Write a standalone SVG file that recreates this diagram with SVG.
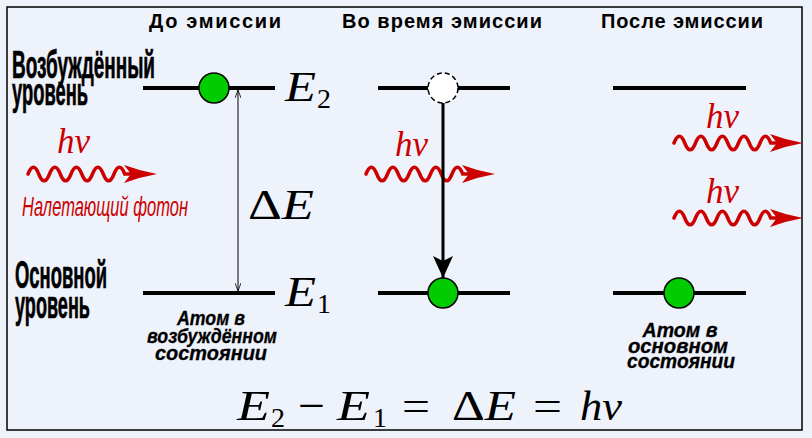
<svg xmlns="http://www.w3.org/2000/svg" xmlns:xlink="http://www.w3.org/1999/xlink" width="812" height="438" viewBox="0 0 812 438">
<style>
.head{font-family:"Liberation Sans",Arial,sans-serif;font-weight:bold;font-size:20px;fill:#000}
.lvl{font-family:"Liberation Sans",Arial,sans-serif;font-weight:bold;font-size:39px;fill:#000;stroke:#000;stroke-width:0.7}
.note{font-family:"Liberation Sans",Arial,sans-serif;font-weight:bold;font-style:italic;font-size:20px;fill:#000;stroke:#000;stroke-width:0.3;text-anchor:middle}
.inc{font-family:"Liberation Sans",Arial,sans-serif;font-style:italic;font-size:28px;fill:#cc0000}
.m{font-family:"Liberation Serif","Times New Roman",serif;font-style:italic;font-size:43px;fill:#000}
.mu{font-family:"Liberation Serif","Times New Roman",serif;font-size:43px;fill:#000}
.sub{font-family:"Liberation Serif","Times New Roman",serif;font-size:28px;fill:#000}
.hv{font-family:"Liberation Serif","Times New Roman",serif;font-style:italic;font-size:35px;fill:#cc0000}
.level{stroke:#000;stroke-width:4;fill:none}
.atom{fill:#00cc00;stroke:#000;stroke-width:1.5}
.wave{fill:none;stroke:#cc0000;stroke-width:3.5;stroke-linecap:round}
</style>
<defs>
<g id="photon">
<path class="wave" d="M0,0 c3.5,-9 7.25,-9 10.75,0 s7.25,9 10.75,0 s7.25,-9 10.75,0 s7.25,9 10.75,0 s7.25,-9 10.75,0 s7.25,9 10.75,0 s7.25,-9 10.75,0 s7.25,9 10.75,0 s7.25,-9 10.75,0 L104,0"/>
<path d="M129,0 Q112,-3 96,-9 L103,0 L96,9 Q112,3 129,0 Z" fill="#cc0000"/>
</g>
<marker id="thin" viewBox="0 0 8 6" refX="8" refY="3" markerWidth="8" markerHeight="6" markerUnits="userSpaceOnUse" orient="auto-start-reverse">
<path d="M0,0 L8,3 L0,6" fill="none" stroke="#000" stroke-width="0.8"/>
</marker>
<marker id="bold" viewBox="0 0 22 20" refX="22" refY="10" markerWidth="22" markerHeight="20" markerUnits="userSpaceOnUse" orient="auto">
<path d="M22,10 L0,0 L5,10 L0,20 Z" fill="#000"/>
</marker>
</defs>
<rect width="812" height="438" fill="#eef2fb"/>
<rect x="7" y="7" width="795" height="423" fill="#eef2fb" stroke="#000" stroke-width="1.5"/>

<g id="headings">
<text class="head" x="149" y="28" textLength="132" lengthAdjust="spacing">До эмиссии</text>
<text class="head" x="342" y="28" textLength="200" lengthAdjust="spacing">Во время эмиссии</text>
<text class="head" x="601" y="28" textLength="162" lengthAdjust="spacing">После эмиссии</text>
</g>

<g id="level-labels">
<text class="lvl" x="12" y="78" textLength="143" lengthAdjust="spacingAndGlyphs">Возбуждённый</text>
<text class="lvl" x="12" y="105" textLength="76" lengthAdjust="spacingAndGlyphs">уровень</text>
<text class="lvl" x="15" y="288" textLength="92" lengthAdjust="spacingAndGlyphs">Основной</text>
<text class="lvl" x="15" y="318" textLength="75" lengthAdjust="spacingAndGlyphs">уровень</text>
</g>

<g id="photons">
<use xlink:href="#photon" href="#photon" x="28" y="174"/>
<use xlink:href="#photon" href="#photon" x="366" y="174"/>
<use xlink:href="#photon" href="#photon" x="674" y="143"/>
<use xlink:href="#photon" href="#photon" x="674" y="218"/>
<text class="hv" x="57" y="153">hν</text>
<text class="hv" x="395" y="156">hν</text>
<text class="hv" x="706" y="128">hν</text>
<text class="hv" x="706" y="203">hν</text>
<text class="inc" x="22" y="216" textLength="166" lengthAdjust="spacingAndGlyphs">Налетающий фотон</text>
</g>

<g id="before">
<line class="level" x1="143" y1="88" x2="275" y2="88"/>
<line class="level" x1="143" y1="293" x2="275" y2="293"/>
<circle class="atom" cx="214" cy="88" r="15"/>
<text class="m" x="285" y="101" textLength="31" lengthAdjust="spacingAndGlyphs">E</text><text class="sub" x="317" y="108">2</text>
<text class="m" x="285" y="306" textLength="31" lengthAdjust="spacingAndGlyphs">E</text><text class="sub" x="317" y="313">1</text>
<text class="mu" x="248" y="219" textLength="66" lengthAdjust="spacingAndGlyphs">Δ<tspan font-style="italic">E</tspan></text>
<text class="note" x="211" y="325" textLength="68" lengthAdjust="spacingAndGlyphs">Атом в</text>
<text class="note" x="212" y="343" textLength="130" lengthAdjust="spacingAndGlyphs">возбуждённом</text>
<text class="note" x="211" y="360" textLength="112" lengthAdjust="spacingAndGlyphs">состоянии</text>
</g>

<g id="during">
<line class="level" x1="378" y1="88" x2="510" y2="88"/>
<line class="level" x1="378" y1="293" x2="510" y2="293"/>
<circle cx="443" cy="88" r="15" fill="#fff" stroke="#000" stroke-width="1.5" stroke-dasharray="5,3"/>
<circle class="atom" cx="443" cy="293" r="15"/>
</g>

<g id="after">
<line class="level" x1="613" y1="88" x2="746" y2="88"/>
<line class="level" x1="613" y1="293" x2="746" y2="293"/>
<circle class="atom" cx="679" cy="293" r="15"/>
<text class="note" x="680" y="337" textLength="75" lengthAdjust="spacingAndGlyphs">Атом в</text>
<text class="note" x="678" y="353" textLength="100" lengthAdjust="spacingAndGlyphs">основном</text>
<text class="note" x="681" y="368" textLength="108" lengthAdjust="spacingAndGlyphs">состоянии</text>
</g>

<g id="connectors">
<line x1="238" y1="90" x2="238" y2="291" stroke="#000" stroke-width="1" marker-start="url(#thin)" marker-end="url(#thin)"/>
<line x1="443" y1="103" x2="443" y2="278" stroke="#000" stroke-width="3" marker-end="url(#bold)"/>
</g>

<g id="formula">
<text class="m" x="237" y="420" textLength="33" lengthAdjust="spacingAndGlyphs">E</text><text class="sub" x="271" y="427">2</text>
<text class="mu" x="298" y="420" textLength="27" lengthAdjust="spacingAndGlyphs">−</text>
<text class="m" x="337" y="420" textLength="33" lengthAdjust="spacingAndGlyphs">E</text><text class="sub" x="373" y="427">1</text>
<text class="mu" x="402" y="420" textLength="28" lengthAdjust="spacingAndGlyphs">=</text>
<text class="mu" x="452" y="420" textLength="64" lengthAdjust="spacingAndGlyphs">Δ<tspan font-style="italic">E</tspan></text>
<text class="mu" x="533" y="420" textLength="29" lengthAdjust="spacingAndGlyphs">=</text>
<text class="m" x="580" y="420" textLength="42" lengthAdjust="spacingAndGlyphs">hν</text>
</g>
</svg>
